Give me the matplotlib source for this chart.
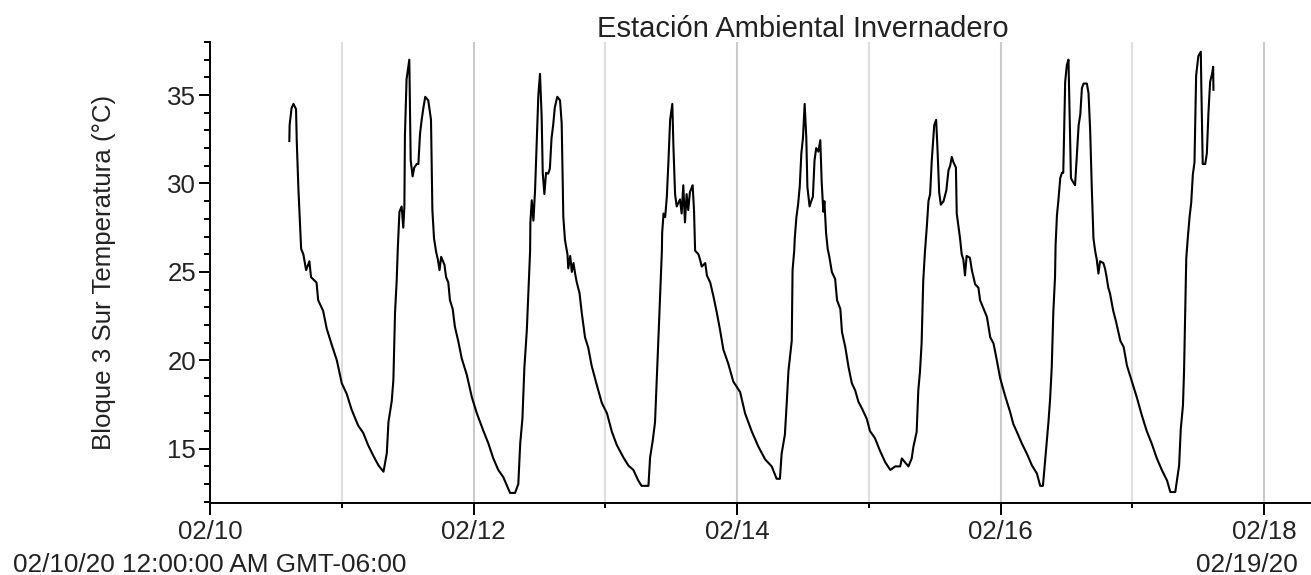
import matplotlib
matplotlib.use("Agg")
import matplotlib.pyplot as plt
from matplotlib.ticker import FixedLocator, MultipleLocator

plt.rcParams['font.family'] = ['Liberation Sans', 'DejaVu Sans']

title = "Estación Ambiental Invernadero"
ylabel = "Bloque 3 Sur Temperatura (°C)"
start_label = "02/10/20 12:00:00 AM GMT-06:00"
end_label = "02/19/20"

# hours since 02/10/20 00:00
hours = [
    14.45, 14.5, 14.85, 15.2, 15.67, 15.8, 16.1, 16.6, 17.0, 17.5, 18.1, 18.4, 19.4, 19.7,
    20.6, 21.25, 22.2, 23.1, 24.0, 24.9, 25.8, 27.0, 27.9, 28.8, 29.75, 30.7, 31.6, 32.2,
    32.5, 33.1, 33.4, 33.7, 34.0, 34.2, 34.5, 34.9, 35.2, 35.4, 35.5, 35.8, 36.3, 36.55,
    36.9, 37.2, 37.65, 37.95, 38.25, 38.55, 38.85, 39.2, 39.75, 40.25, 40.5, 40.8, 41.2,
    41.5, 41.8, 42.1, 42.7, 43.0, 43.4, 43.7, 44.2, 44.6, 45.2, 45.85, 46.75, 47.7, 48.6,
    49.8, 50.7, 51.6, 52.5, 53.4, 54.3, 54.65, 55.55, 56.15, 56.5, 56.9, 57.25, 57.7, 58.0,
    58.3, 58.35, 58.6, 58.9, 59.2, 59.5, 59.8, 60.1, 60.4, 60.6, 60.9, 61.2, 61.6, 61.9,
    62.2, 62.5, 62.8, 63.25, 63.75, 64.05, 64.35, 64.65, 65.1, 65.25, 65.6, 65.9, 66.2,
    66.5, 66.8, 67.3, 67.7, 68.3, 68.9, 69.5, 70.45, 71.35, 72.3, 73.2, 74.1, 75.3, 76.2,
    77.1, 78.0, 78.6, 79.85, 80.15, 80.65, 81.05, 81.4, 81.65, 81.95, 82.3, 82.35, 82.6,
    82.9, 83.2, 83.5, 83.8, 84.2, 84.4, 84.7, 85.0, 85.6, 85.9, 86.2, 86.5, 86.8, 87.1,
    87.4, 87.9, 88.15, 88.35, 88.95, 89.25, 89.55, 90.2, 90.5, 91.1, 91.7, 92.3, 92.9,
    93.5, 94.4, 95.3, 96.55, 97.45, 98.7, 99.9, 101.1, 102.3, 103.2, 103.8, 104.1, 104.7,
    105.05, 105.35, 105.95, 106.1, 106.4, 106.5, 106.8, 107.1, 107.4, 107.7, 108.0, 108.3,
    108.6, 108.8, 109.2, 109.5, 109.8, 110.1, 110.4, 110.8, 111.15, 111.4, 111.7, 111.9,
    112.2, 112.5, 112.8, 113.25, 113.85, 114.2, 114.8, 115.1, 115.7, 116.3, 116.9, 117.5,
    118.1, 118.7, 119.6, 120.2, 121.1, 122.0, 122.95, 123.9, 124.8, 125.7, 126.0, 127.2,
    127.8, 128.1, 128.7, 129.0, 129.3, 129.6, 129.9, 130.2, 130.55, 130.85, 131.15, 131.45,
    131.9, 132.25, 132.5, 132.8, 133.1, 133.6, 134.1, 134.5, 134.8, 135.1, 135.4, 135.85,
    136.0, 136.6, 136.9, 137.2, 137.5, 137.8, 138.4, 138.75, 139.35, 139.95, 140.25, 140.9,
    141.5, 142.1, 142.7, 143.3, 143.9, 144.8, 145.7, 146.3, 146.95, 147.85, 148.8, 149.7,
    150.6, 151.2, 151.7, 152.1, 152.7, 153.0, 153.3, 153.6, 153.9, 154.0, 154.25, 154.5,
    154.85, 155.15, 155.4, 155.75, 156.05, 156.35, 156.5, 156.8, 157.15, 157.55, 157.9,
    158.2, 158.5, 158.8, 159.1, 159.7, 160.0, 160.3, 160.6, 160.9, 161.2, 161.5, 161.8,
    162.1, 162.7, 163.0, 163.3, 163.6, 163.9, 164.5, 165.0, 165.8, 166.4, 167.0, 167.9,
    168.8, 169.7, 170.6, 171.5, 172.45, 173.35, 174.3, 174.9, 175.8, 176.1, 176.5, 176.8,
    177.2, 177.4, 177.7, 177.8, 178.05, 178.4, 178.7, 179.0, 179.3, 179.6, 180.0, 180.45,
    180.55, 180.8, 181.25, 181.55, 181.85, 182.15, 182.5, 182.7, 182.75,
]

temps = [
    32.4, 33.3, 34.25, 34.5, 34.2, 32.4, 29.7, 26.3, 26.0, 25.1, 25.6, 24.7, 24.4, 23.4,
    22.8, 21.8, 20.85, 20.0, 18.7, 18.1, 17.2, 16.3, 15.9, 15.2, 14.6, 14.05, 13.7, 14.75,
    16.5, 17.7, 18.9, 22.7, 24.5, 26.3, 28.4, 28.7, 27.5, 28.7, 32.7, 35.9, 37.0, 31.3,
    30.4, 30.9, 31.1, 31.1, 32.8, 33.6, 34.25, 34.9, 34.7, 33.6, 28.5, 26.9, 26.1,
    25.7, 25.1, 25.85, 25.4, 24.7, 24.4, 23.4, 22.9, 21.9, 21.1, 20.1, 19.2, 17.9, 17.0,
    16.0, 15.3, 14.45, 13.8, 13.4, 12.75, 12.5, 12.5, 13.0, 15.3, 16.7, 19.55, 21.7, 23.9,
    26.2, 27.8, 29.05, 27.9, 29.6, 32.3, 35.0, 36.2, 33.8, 30.6, 29.4, 30.6, 30.55, 30.85,
    32.55, 33.3, 34.3, 34.9, 34.7, 33.4, 28.1, 26.8, 26.0, 25.2, 25.9, 25.0, 25.5,
    24.9, 24.4, 23.8, 22.7, 21.3, 20.7, 19.7, 18.6, 17.6, 17.0, 15.95, 15.2, 14.5, 14.05,
    13.8, 13.2, 12.9, 12.9, 14.5, 15.5, 16.5, 19.25, 21.1, 23.4, 26.2, 27.2, 28.3,
    28.1, 29.25, 31.3, 33.6, 34.5, 32.1, 29.4, 28.7, 29.1, 28.3, 29.9, 27.8, 29.4, 28.5,
    29.5, 29.9, 28.5, 26.2, 26.0, 25.7, 25.3, 25.5, 24.8, 24.4, 23.6, 22.7, 21.7,
    20.6, 19.8, 18.8, 18.2, 17.0, 15.95, 15.1, 14.4, 14.0, 13.3, 13.3, 14.7, 15.8,
    17.65, 19.4, 21.1, 25.1, 26.2, 26.9, 28.1, 28.8, 29.8, 31.7, 32.6, 34.5,
    32.6, 29.8, 28.7, 29.0, 29.25, 31.3, 32.0, 31.8, 32.45, 30.1, 28.4, 29.0,
    27.2, 26.3, 25.85, 25.0, 24.6, 23.4, 22.9, 21.6, 20.75, 19.6, 18.7, 18.3,
    17.65, 17.3, 16.7, 16.0, 15.6, 14.9, 14.25, 13.8, 14.0, 14.0, 14.45, 14.0,
    14.45, 15.1, 15.95, 18.3, 19.35, 20.95, 24.5, 26.1, 27.55, 29.0, 29.4, 31.3,
    33.3, 33.6, 31.9, 29.5, 28.8, 29.0, 29.6, 30.75, 31.0, 31.5, 31.2, 30.9,
    28.3, 26.9, 26.0, 25.7, 24.8, 25.9, 25.8, 25.1, 24.3, 24.1, 23.4, 22.9,
    22.45, 21.3, 20.95, 20.0, 19.0, 18.0, 17.1, 16.4, 15.95, 15.3, 14.7, 14.05,
    13.6, 12.9, 12.9, 14.35, 16.5, 17.8, 19.6, 22.8, 24.7, 26.5, 28.2, 29.0,
    30.3, 30.6, 30.6, 35.75, 36.7, 37.0, 34.7, 30.3, 30.1, 29.9, 31.7,
    33.3, 33.9, 35.4, 35.65, 35.65, 35.1, 33.0, 29.7, 26.9, 26.2, 25.7, 24.9,
    25.6, 25.5, 25.2, 24.7, 24.1, 23.8, 22.8, 22.2, 21.1, 20.75, 19.7, 18.8,
    17.9, 16.9, 16.0, 15.3, 14.45, 13.8, 13.2, 12.55, 12.55, 13.2, 14.05, 16.1,
    17.45, 19.4, 24.0, 25.75, 26.8, 28.1, 28.9, 30.5, 31.2, 36.1, 37.2, 37.45,
    35.4, 31.1, 31.1, 31.7, 34.05, 35.75, 36.2, 36.6, 35.3,
]

major_hours = [0, 48, 96, 144, 192]
major_labels = ["02/10", "02/12", "02/14", "02/16", "02/18"]
minor_hours = [24, 72, 120, 168]
y_major = [15, 20, 25, 30, 35]

W, H = 1311, 575
fig = plt.figure(figsize=(W / 100, H / 100), dpi=100)
ax = fig.add_axes([210 / W, 1 - 503 / H, 1186 / W, (503 - 42) / H])

for h in minor_hours:
    ax.axvline(h, color="#dedede", lw=1.5, zorder=0)
for h in major_hours[1:]:
    ax.axvline(h, color="#cacaca", lw=1.5, zorder=0)

ax.plot(hours, temps, color="black", lw=1.5, zorder=3)

ax.set_xlim(0, 216)
ax.set_ylim(11.93, 38.0)

ax.xaxis.set_major_locator(FixedLocator(major_hours))
ax.set_xticklabels(major_labels)
ax.xaxis.set_minor_locator(FixedLocator(minor_hours))
ax.yaxis.set_major_locator(FixedLocator(y_major))
ax.yaxis.set_minor_locator(MultipleLocator(1))

for s in ["top", "right"]:
    ax.spines[s].set_visible(False)
for s in ["left", "bottom"]:
    ax.spines[s].set_linewidth(1.4)
    ax.spines[s].set_color("black")

ax.tick_params(axis="x", which="major", length=8.5, width=1.4, pad=4, labelsize=18.6, labelcolor="#222222")
ax.tick_params(axis="x", which="minor", length=3.6, width=1.4)
ax.tick_params(axis="y", which="major", length=8, width=1.4, pad=2, labelsize=18.6, labelcolor="#222222")
ax.tick_params(axis="y", which="minor", length=4.3, width=1.4)

fig.text(802.5 / W, 1 - 37 / H, title, ha="center", va="baseline", fontsize=21, color="#222222")
fig.text(104 / W, 1 - 272 / H, ylabel, ha="center", va="center", rotation=90, fontsize=18.6, color="#222222")
fig.text(13 / W, 1 - 572 / H, start_label, ha="left", va="baseline", fontsize=18.8, color="#222222")
fig.text(1298 / W, 1 - 572 / H, end_label, ha="right", va="baseline", fontsize=18.8, color="#222222")

fig.savefig("out.png", dpi=100)
